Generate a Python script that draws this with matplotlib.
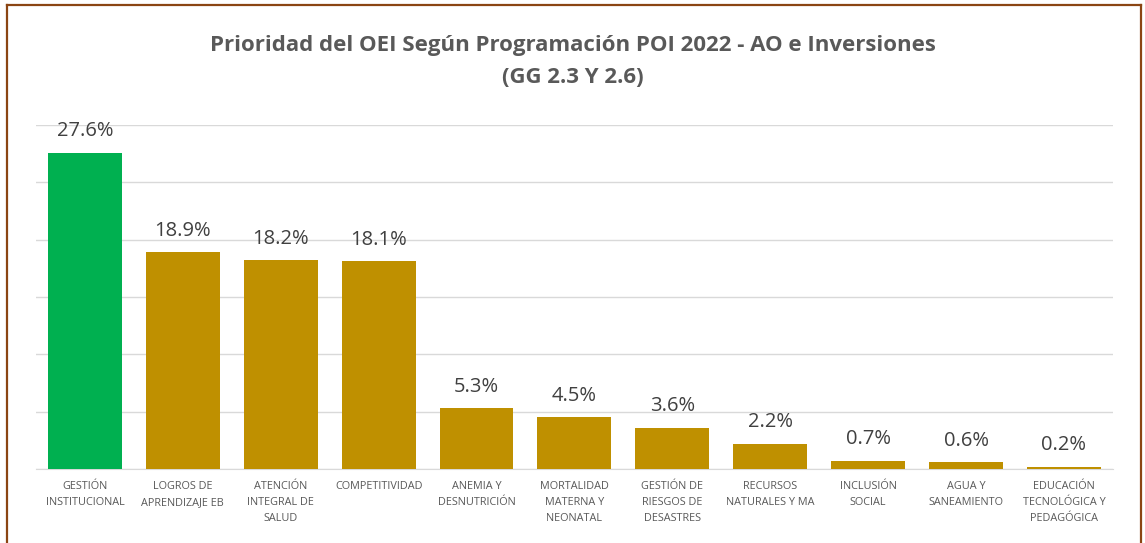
import matplotlib
matplotlib.use('Agg')
import matplotlib.pyplot as plt
from matplotlib.lines import Line2D

# Data
categorias = ['GESTIÓN\nINSTITUCIONAL', 'LOGROS DE\nAPRENDIZAJE EB', 'ATENCIÓN\nINTEGRAL DE\nSALUD',
              'COMPETITIVIDAD', 'ANEMIA Y\nDESNUTRICIÓN', 'MORTALIDAD\nMATERNA Y\nNEONATAL',
              'GESTIÓN DE\nRIESGOS DE\nDESASTRES', 'RECURSOS\nNATURALES Y MA', 'INCLUSIÓN\nSOCIAL',
              'AGUA Y\nSANEAMIENTO', 'EDUCACIÓN\nTECNOLÓGICA Y\nPEDAGÓGICA']
porcentajes = [27.6, 18.9, 18.2, 18.1, 5.3, 4.5, 3.6, 2.2, 0.7, 0.6, 0.2]
titulo = 'Prioridad del OEI Según Programación POI 2022 - AO e Inversiones\n(GG 2.3 Y 2.6)'

plt.rcParams['font.family'] = ['Open Sans', 'DejaVu Sans']

fig = plt.figure(figsize=(11.45, 5.43), dpi=100)
ax = fig.add_axes([0.0314, 0.1363, 0.9406, 0.6335])

colores = ['#00B050'] + ['#BF9000'] * (len(porcentajes) - 1)
x = range(len(porcentajes))
bars = ax.bar(x, porcentajes, width=0.755, color=colores, zorder=3)

for b, v in zip(bars, porcentajes):
    ax.text(b.get_x() + b.get_width() / 2, v + 1.0, f'{v:.1f}%', ha='center', va='bottom',
            fontsize=14.5, color='#404040')

ax.set_xlim(-0.5, len(porcentajes) - 0.5)
ax.set_ylim(0, 30)
ax.set_yticks(range(0, 31, 5))
ax.set_yticklabels([])
ax.tick_params(axis='y', length=0)
ax.grid(axis='y', color='#D9D9D9', linewidth=1, zorder=0)
ax.set_xticks(list(x))
ax.set_xticklabels(categorias, fontsize=7.8, color='#595959', linespacing=1.6)
ax.tick_params(axis='x', length=0, pad=9)
for s in ['top', 'right', 'left']:
    ax.spines[s].set_visible(False)
ax.spines['bottom'].set_color('#D9D9D9')

fig.text(0.5, 0.935, titulo, ha='center', va='top', fontsize=16, fontweight='bold',
         color='#595959', linespacing=1.65)

# marco
borde = '#8B4513'
fig.add_artist(Line2D([6.5 / 1145, 6.5 / 1145], [0, 1 - 4.5 / 543], color=borde, lw=1.6))
fig.add_artist(Line2D([6.5 / 1145, 1141 / 1145], [1 - 4.5 / 543, 1 - 4.5 / 543], color=borde, lw=1.6))
fig.add_artist(Line2D([1141 / 1145, 1141 / 1145], [0, 1 - 4.5 / 543], color=borde, lw=1.6))

fig.savefig('out.png', dpi=100)
